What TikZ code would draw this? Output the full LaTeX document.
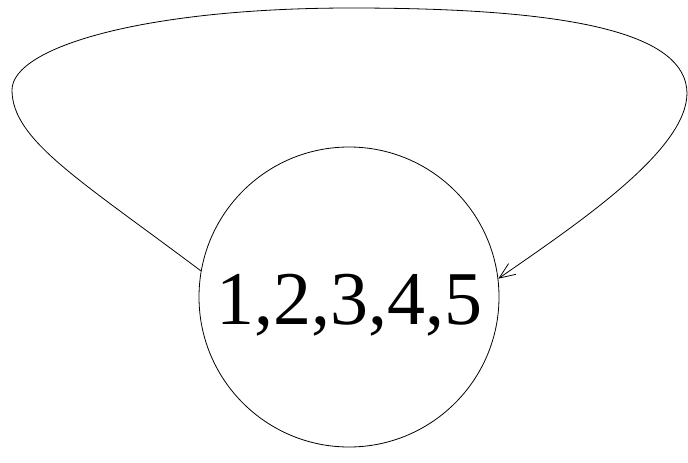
\documentclass[tikz,border=0pt]{standalone}
\usepackage{fontspec}
\setmainfont{Liberation Serif}
\usetikzlibrary{arrows.meta}
\begin{document}
\begin{tikzpicture}[x=1pt,y=-1pt,
  state/.style={draw,circle,minimum size=300pt,inner sep=0pt,line width=0.8pt,text height=54pt,text depth=0pt,font=\fontsize{76}{80}\selectfont},
  loopline/.style={draw,line width=0.8pt,-{Straight Barb[length=16pt,width=13pt,line width=0.8pt]}}]
\useasboundingbox (0,0) rectangle (688,463);
\node[state] (s) at (349,297) {1,2,3,4,5};
\coordinate (l) at (12,90);
\coordinate (t) at (351,8);
\coordinate (r) at (687,93);
\path[loopline] (s.170) .. controls (80,180) and (12,140) .. (l)
  .. controls (12,47) and (145,8) .. (t)
  .. controls (580,8) and (686,35) .. (r)
  .. controls (687,150) and (580,222) .. (s.7);
\end{tikzpicture}
\end{document}
